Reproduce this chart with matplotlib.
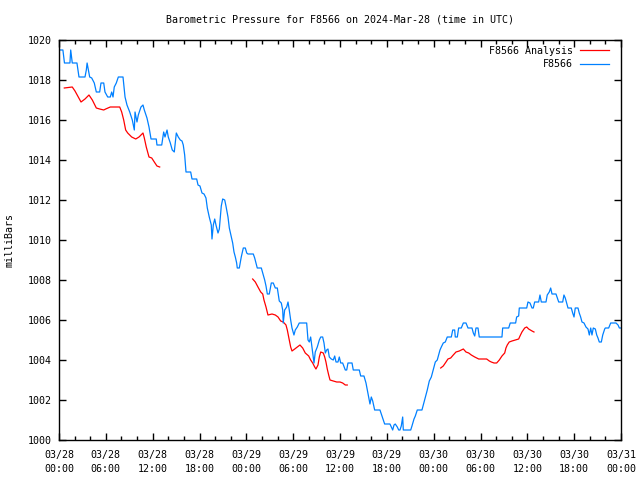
import matplotlib
matplotlib.use("Agg")
import matplotlib.pyplot as plt
import numpy as np
from matplotlib.ticker import MultipleLocator

# ---- data (hours since 2024-03-28 00:00 UTC, pressure in mbar) ----
station_hours = [0, 0.5, 0.7, 1.2, 1.4, 1.5, 1.7, 2.3, 2.56, 3.16, 3.33, 3.5, 3.6, 3.93, 4.19, 4.52, 4.78,
    5.21, 5.38, 5.73, 5.89, 6.24, 6.57, 6.75, 6.92, 7.08, 7.34, 7.6, 8.2, 8.46, 8.71, 9.06, 9.39,
    9.65, 9.74, 9.99, 10.16, 10.5, 10.76, 10.93, 11.27, 11.53, 11.79, 12.46, 12.55, 13.16, 13.41,
    13.58, 13.84, 14.0, 14.26, 14.51, 14.77, 15.03, 15.28, 15.54, 15.76, 15.92, 16.1, 16.27, 16.87,
    17.04, 17.64, 17.81, 18.06, 18.32, 18.58, 18.83, 19.0, 19.25, 19.51, 19.6, 19.77, 19.95, 20.11,
    20.37, 20.54, 20.79, 20.97, 21.23, 21.39, 21.65, 21.82, 22.07, 22.25, 22.42, 22.59, 22.76, 22.84,
    23.1, 23.35, 23.61, 23.87, 24.05, 24.21, 24.89, 25.07, 25.24, 25.4, 25.92, 26.17, 26.35, 26.52,
    26.69, 26.94, 27.2, 27.45, 27.71, 27.97, 28.22, 28.48, 28.66, 28.73, 28.91, 29.17, 29.34, 29.5,
    29.68, 29.85, 30.1, 30.27, 30.53, 30.78, 31.73, 31.9, 32.07, 32.24, 32.41, 32.58, 32.67, 32.83,
    33.09, 33.35, 33.53, 33.78, 33.95, 34.12, 34.29, 34.46, 34.63, 34.88, 35.14, 35.32, 35.49, 35.74,
    35.91, 36.09, 36.34, 36.68, 36.86, 37.02, 37.54, 37.7, 38.47, 38.65, 39.07, 39.33, 39.5, 39.67,
    39.84, 40.01, 40.19, 40.44, 41.12, 41.38, 41.72, 42.4, 42.57, 42.75, 42.92, 43.08, 43.34, 43.52,
    43.68, 43.85, 44.03, 44.11, 45.06, 45.22, 45.48, 45.65, 45.9, 46.5, 46.67, 46.93, 47.18, 47.44,
    47.7, 47.87, 48.04, 48.21, 48.46, 48.64, 48.81, 48.98, 49.23, 49.49, 49.74, 50.26, 50.44, 50.69,
    50.77, 51.03, 51.2, 51.54, 51.8, 52.14, 52.4, 52.91, 53.08, 53.26, 53.42, 53.68, 53.84, 56.75,
    56.84, 57.61, 57.81, 58.5, 58.63, 58.89, 58.97, 59.92, 60.08, 60.34, 60.6, 60.76, 60.94, 61.45,
    61.62, 61.79, 62.39, 62.55, 62.81, 62.99, 63.16, 63.67, 63.84, 64.02, 64.53, 64.69, 64.86, 65.04,
    65.21, 65.63, 65.81, 65.98, 66.14, 66.49, 66.65, 66.83, 67.0, 67.26, 67.51, 67.77, 67.94, 68.12,
    68.28, 68.45, 68.71, 68.89, 69.05, 69.22, 69.48, 69.66, 69.91, 69.99, 70.42, 70.68, 71.36, 71.62,
    71.79, 72.0]
station_mbar = [1019.5, 1019.5, 1018.85, 1018.85, 1018.85, 1019.5, 1018.85, 1018.85, 1018.15, 1018.15,
    1018.15, 1018.5, 1018.85, 1018.15, 1018.1, 1017.85, 1017.4, 1017.4, 1017.85, 1017.85, 1017.4,
    1017.15, 1017.15, 1017.4, 1017.15, 1017.65, 1017.85, 1018.15, 1018.15, 1017.15, 1016.75, 1016.4,
    1016.0, 1015.5, 1016.4, 1015.9, 1016.25, 1016.65, 1016.75, 1016.5, 1016.1, 1015.65, 1015.05,
    1015.05, 1014.75, 1014.75, 1015.4, 1015.15, 1015.5, 1015.15, 1014.85, 1014.5, 1014.4, 1015.35,
    1015.15, 1015.0, 1014.95, 1014.75, 1014.25, 1013.4, 1013.4, 1013.05, 1013.05, 1012.75, 1012.7,
    1012.35, 1012.3, 1012.1, 1011.6, 1011.15, 1010.75, 1010.05, 1010.75, 1011.05, 1010.75, 1010.35,
    1010.55, 1011.7, 1012.05, 1012.0, 1011.7, 1011.15, 1010.6, 1010.15, 1009.85, 1009.4, 1009.15,
    1008.85, 1008.6, 1008.6, 1009.15, 1009.6, 1009.6, 1009.35, 1009.3, 1009.3, 1009.1, 1008.85,
    1008.6, 1008.6, 1008.25, 1008.0, 1007.7, 1007.3, 1007.3, 1007.85, 1007.85, 1007.6, 1007.6,
    1006.95, 1006.85, 1006.5, 1005.85, 1006.5, 1006.65, 1006.9, 1006.5, 1006.0, 1005.6, 1005.25,
    1005.5, 1005.65, 1005.85, 1005.85, 1005.0, 1004.9, 1005.15, 1004.65, 1004.15, 1003.85, 1004.4,
    1004.65, 1005.0, 1005.15, 1005.15, 1004.85, 1004.35, 1004.5, 1004.55, 1004.15, 1004.05, 1004.0,
    1004.2, 1003.9, 1003.9, 1004.15, 1003.85, 1003.85, 1003.5, 1003.5, 1003.85, 1003.85, 1003.5,
    1003.5, 1003.2, 1003.2, 1002.85, 1002.5, 1002.15, 1001.8, 1002.15, 1001.95, 1001.5, 1001.5,
    1001.2, 1000.8, 1000.8, 1000.65, 1000.5, 1000.75, 1000.8, 1000.65, 1000.5, 1000.5, 1000.7,
    1001.15, 1000.5, 1000.5, 1000.7, 1001.05, 1001.2, 1001.5, 1001.5, 1001.75, 1002.15, 1002.5,
    1002.95, 1003.15, 1003.4, 1003.65, 1003.9, 1004.0, 1004.25, 1004.5, 1004.65, 1004.85, 1004.9,
    1005.15, 1005.15, 1005.5, 1005.5, 1005.15, 1005.15, 1005.6, 1005.6, 1005.85, 1005.85, 1005.6,
    1005.6, 1005.35, 1005.2, 1005.6, 1005.6, 1005.15, 1005.15, 1005.6, 1005.6, 1005.85, 1005.85,
    1006.15, 1006.2, 1006.6, 1006.6, 1006.9, 1006.85, 1006.6, 1006.6, 1006.9, 1006.9, 1007.25,
    1006.9, 1006.9, 1007.25, 1007.4, 1007.6, 1007.3, 1007.3, 1007.1, 1006.9, 1006.9, 1007.25,
    1007.1, 1006.85, 1006.6, 1006.6, 1006.35, 1006.15, 1006.6, 1006.6, 1006.35, 1006.15, 1005.9,
    1005.85, 1005.65, 1005.55, 1005.25, 1005.6, 1005.25, 1005.6, 1005.55, 1005.25, 1005.1, 1004.9,
    1004.9, 1005.25, 1005.55, 1005.6, 1005.6, 1005.85, 1005.85, 1005.75, 1005.6, 1005.6]

analysis1_hours = [0.68, 1.7, 2.05, 2.82, 3.33, 3.84, 4.27, 4.78, 5.21, 5.73, 5.98, 6.57, 7.78, 8.03,
    8.29, 8.54, 8.8, 9.31, 9.83, 10.25, 10.76, 10.93, 11.18, 11.53, 11.88, 12.21, 12.55, 12.9]
analysis1_mbar = [1017.6, 1017.65, 1017.45, 1016.9, 1017.05, 1017.25, 1017.0, 1016.6, 1016.55, 1016.5,
    1016.55, 1016.65, 1016.65, 1016.4, 1016.0, 1015.5, 1015.35, 1015.15, 1015.05, 1015.15, 1015.35,
    1015.1, 1014.65, 1014.15, 1014.1, 1013.9, 1013.7, 1013.65]
analysis2_hours = [24.81, 25.15, 25.49, 25.84, 26.1, 26.26, 26.52, 26.77, 27.29, 27.71, 28.06, 28.4,
    28.73, 29.08, 29.25, 29.5, 29.68, 29.85, 30.2, 30.53, 30.87, 31.22, 31.55, 31.99, 32.24, 32.5,
    32.76, 32.92, 33.18, 33.35, 33.53, 33.86, 34.04, 34.2, 34.37, 34.55, 34.72, 35.14, 35.58, 36.0,
    36.34, 36.68, 36.93]
analysis2_mbar = [1008.05, 1007.9, 1007.65, 1007.4, 1007.3, 1007.0, 1006.65, 1006.25, 1006.3, 1006.25,
    1006.15, 1005.95, 1005.9, 1005.75, 1005.5, 1005.0, 1004.65, 1004.45, 1004.55, 1004.65, 1004.75,
    1004.6, 1004.35, 1004.2, 1004.0, 1003.85, 1003.65, 1003.55, 1003.75, 1004.15, 1004.4, 1004.35,
    1004.15, 1003.9, 1003.55, 1003.25, 1003.0, 1002.95, 1002.9, 1002.9, 1002.85, 1002.75, 1002.75]
analysis3_hours = [48.9, 49.23, 49.58, 49.83, 50.18, 50.51, 50.86, 51.28, 51.8, 52.14, 52.49, 52.82,
    53.26, 53.77, 54.79, 55.13, 55.38, 55.73, 56.07, 56.41, 56.75, 57.1, 57.26, 57.43, 57.68, 58.03,
    58.46, 58.89, 59.06, 59.31, 59.66, 59.92, 60.17, 60.6, 60.85]
analysis3_mbar = [1003.6, 1003.7, 1003.9, 1004.05, 1004.1, 1004.25, 1004.4, 1004.45, 1004.55, 1004.4,
    1004.35, 1004.25, 1004.15, 1004.05, 1004.05, 1003.95, 1003.9, 1003.85, 1003.85, 1004.0, 1004.2,
    1004.35, 1004.6, 1004.75, 1004.9, 1004.95, 1005.0, 1005.05, 1005.2, 1005.4, 1005.6, 1005.65,
    1005.55, 1005.45, 1005.4]

tick_hours = [0, 6, 12, 18, 24, 30, 36, 42, 48, 54, 60, 66, 72]
tick_labels = ["03/28\n00:00", "03/28\n06:00", "03/28\n12:00", "03/28\n18:00",
               "03/29\n00:00", "03/29\n06:00", "03/29\n12:00", "03/29\n18:00",
               "03/30\n00:00", "03/30\n06:00", "03/30\n12:00", "03/30\n18:00",
               "03/31\n00:00"]

title = "Barometric Pressure for F8566 on 2024-Mar-28 (time in UTC)"

# ---- drawing ----
FONT = "DejaVu Sans Mono"
FS = 7.2
RED = "#ff0000"
BLUE = "#0080ff"
LW = 0.9

fig = plt.figure(figsize=(6.4, 4.8), dpi=100)
ax = fig.add_axes([59 / 640, 40 / 480, 562 / 640, 400 / 480])

l1, = ax.plot(analysis1_hours, analysis1_mbar, color=RED, lw=LW, label="F8566 Analysis")
ax.plot(analysis2_hours, analysis2_mbar, color=RED, lw=LW)
ax.plot(analysis3_hours, analysis3_mbar, color=RED, lw=LW)
l2, = ax.plot(station_hours, station_mbar, color=BLUE, lw=LW, label="F8566")

ax.set_xlim(0, 72)
ax.set_ylim(1000, 1020)
ax.set_yticks(np.arange(1000, 1021, 2))
ax.set_xticks(tick_hours)
ax.set_xticklabels(tick_labels, fontfamily=FONT, fontsize=FS, linespacing=1.5)
ax.xaxis.set_minor_locator(MultipleLocator(2))
for lbl in ax.get_yticklabels():
    lbl.set_fontfamily(FONT)
    lbl.set_fontsize(FS)

ax.tick_params(axis="both", which="both", direction="in", top=True, right=True,
               width=1.0, color="black")
ax.tick_params(axis="both", which="major", length=5)
ax.tick_params(axis="both", which="minor", length=3)
ax.tick_params(axis="y", which="major", pad=5)
ax.tick_params(axis="x", which="major", pad=7)
for sp in ax.spines.values():
    sp.set_linewidth(1.0)

leg = ax.legend(handles=[l1, l2], loc="upper right", bbox_to_anchor=(550 / 562, 0.985),
                frameon=False, markerfirst=False, handlelength=2.9, handletextpad=0.7,
                labelspacing=0.35, borderpad=0, borderaxespad=0,
                prop={"family": FONT, "size": FS})

fig.text(340 / 640, 1 - 19 / 480, title, ha="center", va="center",
         fontfamily=FONT, fontsize=FS)
fig.text(10 / 640, 0.5, "milliBars", rotation=90, ha="center", va="center",
         fontfamily=FONT, fontsize=FS)

fig.savefig("out.png", dpi=100)
